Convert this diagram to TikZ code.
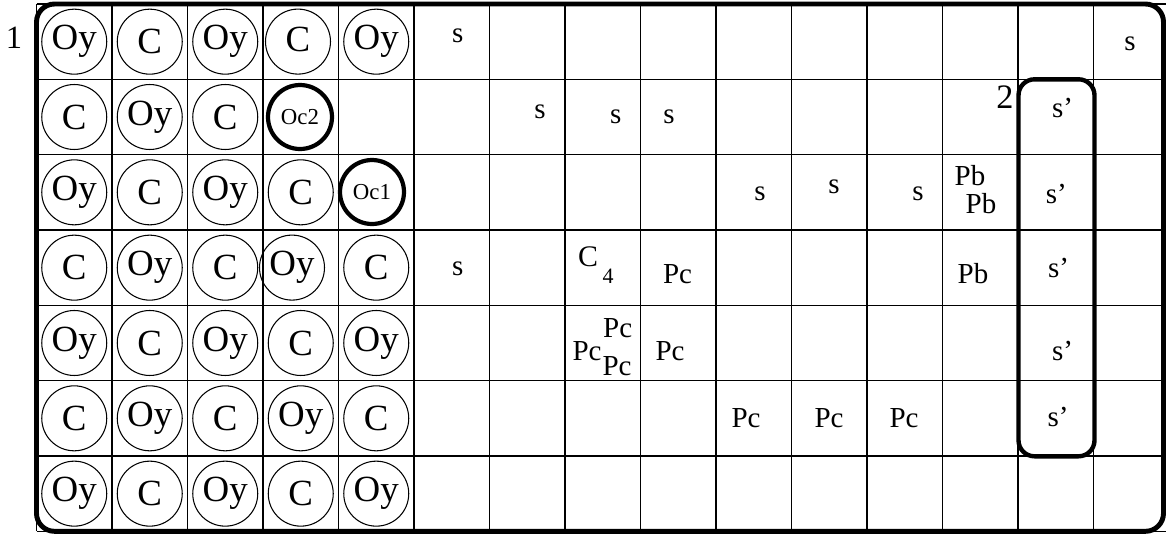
\documentclass[tikz,border=0pt]{standalone}
\usepackage{fontspec}
\setmainfont{Liberation Serif}
\begin{document}
\begin{tikzpicture}[x=0.02cm,y=-0.02cm,
  gridline/.style={line width=0.7pt},
  ring/.style={circle,draw,line width=0.6pt,minimum size=1.3cm,inner sep=0pt,
    font=\fontsize{21}{23}\selectfont},
  boldring/.style={circle,draw,line width=2.4pt,minimum size=1.28cm,inner sep=0pt,
    font=\fontsize{13}{15}\selectfont},
  lbl/.style={anchor=base,inner sep=0pt,font=\fontsize{16.5}{18}\selectfont},
  bigframe/.style={line width=2.8pt,rounded corners=0.36cm},
  colframe/.style={line width=2.5pt,rounded corners=0.32cm}]
\useasboundingbox (0,0) rectangle (1166,535);

% cell grid: 15 columns, 7 rows
\foreach \k in {0,...,15}
  \draw[gridline] ({36.5+75.5*\k},4) -- ({36.5+75.5*\k},531.3);
\foreach \r in {0,...,7}
  \draw[gridline] (36.5,{4+75.33*\r}) -- (1169,{4+75.33*\r});

% atoms in the first five columns
\foreach \c/\r/\t in {
  1/1/Oy,2/1/C,3/1/Oy,5/1/Oy,
  1/2/C,2/2/Oy,3/2/C,
  1/3/Oy,2/3/C,3/3/Oy,4/3/C,
  1/4/C,2/4/Oy,3/4/C,5/4/C,
  1/5/Oy,2/5/C,3/5/Oy,4/5/C,5/5/Oy,
  1/6/C,2/6/Oy,3/6/C,4/6/Oy,5/6/C,
  1/7/Oy,2/7/C,3/7/Oy,4/7/C,5/7/Oy}
  \node[ring] (a-\c-\r) at ({36.5+75.5*(\c-0.5)},{4+75.33*(\r-0.5)}) {\t};
\node[ring] (a-4-1) at (298,41.6) {\raisebox{3pt}{C}};
\node[ring] (a-4-4) at (292,267.6) {Oy};
\node[boldring] (oc2) at (300,117) {Oc2};
\node[boldring] (oc1) at (372,192) {Oc1};

% outer frame and the highlighted column
\draw[bigframe] (36.5,4) rectangle (1163.5,531.3);
\draw[colframe] (1018.5,79.3) rectangle (1094.5,456.3);

% frame labels
\node[lbl,font=\fontsize{18.5}{20}\selectfont] (n1) at (14,48.3) {1};
\node[lbl,font=\fontsize{19.5}{21}\selectfont] (n2) at (1005,108) {2};

% sites s
\node[lbl] (s1) at (457.7,42) {s};
\node[lbl] (s2) at (1130,50) {s};
\node[lbl] (s3) at (540,118) {s};
\node[lbl] (s4) at (615.7,123) {s};
\node[lbl] (s5) at (669,123) {s};
\node[lbl] (s6) at (760,200) {s};
\node[lbl] (s7) at (834,193) {s};
\node[lbl] (s8) at (918,200) {s};
\node[lbl] (s9) at (457.7,275) {s};

% sites s'
\node[lbl] (t1) at (1062.5,117) {s'};
\node[lbl] (t2) at (1056.3,203.3) {s'};
\node[lbl] (t3) at (1058.5,277) {s'};
\node[lbl] (t4) at (1062.5,360) {s'};
\node[lbl] (t5) at (1058,426.7) {s'};

% Pb
\node[lbl] (b1) at (970,185) {Pb};
\node[lbl] (b2) at (981,213) {Pb};
\node[lbl] (b3) at (973,283) {Pb};

% C_4
\node[lbl,font=\fontsize{17}{19}\selectfont] (c4a) at (588,266.7) {C};
\node[lbl,font=\fontsize{12.5}{14}\selectfont] (c4b) at (608,283) {4};

% Pc
\node[lbl] (p1) at (677.5,283) {Pc};
\node[lbl] (p2) at (617.7,337) {Pc};
\node[lbl] (p3) at (587,360) {Pc};
\node[lbl] (p4) at (617,375) {Pc};
\node[lbl] (p5) at (670,360) {Pc};
\node[lbl] (p6) at (746,427) {Pc};
\node[lbl] (p7) at (829,427) {Pc};
\node[lbl] (p8) at (904,427) {Pc};
\end{tikzpicture}
\end{document}
